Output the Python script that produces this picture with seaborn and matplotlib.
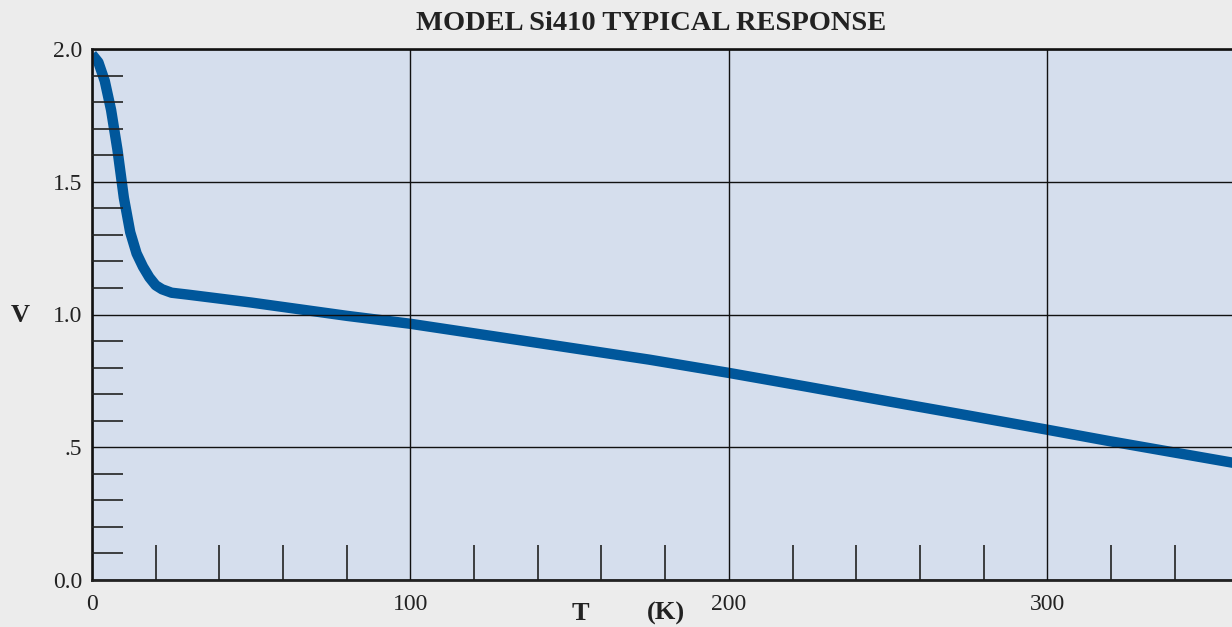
import matplotlib
matplotlib.use("Agg")
import matplotlib.pyplot as plt
import seaborn as sns
import pandas as pd
from matplotlib.ticker import MultipleLocator

# Data
temperature_K = [0, 2, 4, 6, 8, 10, 12, 14, 16, 18, 20, 22, 25, 30, 40, 50, 65, 80, 100,
                 125, 150, 175, 200, 225, 250, 275, 300, 320, 340, 360]
voltage_V = [1.98, 1.95, 1.88, 1.77, 1.62, 1.44, 1.31, 1.23, 1.18, 1.14, 1.11, 1.095, 1.082,
             1.075, 1.06, 1.045, 1.02, 0.995, 0.965, 0.92, 0.875, 0.83, 0.78, 0.727,
             0.673, 0.62, 0.566, 0.522, 0.48, 0.438]

y_tick_values = [0.0, 0.5, 1.0, 1.5, 2.0]
y_tick_labels = ["0.0", ".5", "1.0", "1.5", "2.0"]
x_tick_values = [0, 100, 200, 300]
x_tick_labels = ["0", "100", "200", "300"]

df = pd.DataFrame({"T": temperature_K, "V": voltage_V})

sns.set_theme(style="white")
plt.rcParams["font.family"] = ["Liberation Serif", "DejaVu Serif"]

fig = plt.figure(figsize=(12.32, 6.27), dpi=100)
fig.patch.set_facecolor("#ececec")
ax = fig.add_axes([92 / 1232, 1 - 580 / 627, 1 - 92 / 1232, (580 - 49) / 627])
ax.set_facecolor("#d5deed")

sns.lineplot(data=df, x="T", y="V", ax=ax, color="#00579b", linewidth=7.5,
             solid_capstyle="butt", solid_joinstyle="round")

ax.set_xlim(0.6, 358.0)
ax.set_ylim(0, 2.0)

ax.set_xticks(x_tick_values)
ax.set_xticklabels(x_tick_labels)
ax.set_yticks(y_tick_values)
ax.set_yticklabels(y_tick_labels)
ax.xaxis.set_minor_locator(MultipleLocator(20))
ax.yaxis.set_minor_locator(MultipleLocator(0.1))

ax.tick_params(bottom=True, left=True, which="both")
ax.tick_params(axis="both", which="major", length=0, labelsize=17, labelcolor="#222222")
ax.tick_params(axis="x", which="major", pad=10)
ax.tick_params(axis="y", which="major", pad=7)
ax.tick_params(axis="x", which="minor", direction="in", length=25, width=1.2, color="#222222")
ax.tick_params(axis="y", which="minor", direction="in", length=22, width=1.2, color="#222222")

ax.grid(True, which="major", color="#111111", linewidth=1.0)
ax.set_axisbelow(False)
for gl in ax.get_xgridlines() + ax.get_ygridlines():
    gl.set_zorder(1)

for side in ["left", "bottom", "top"]:
    ax.spines[side].set_visible(True)
    ax.spines[side].set_color("#222222")
    ax.spines[side].set_linewidth(2)
ax.spines["right"].set_visible(False)

ax.set_xlabel("")
ax.set_ylabel("")

fig.text(651 / 1232, 1 - 23 / 627, "MODEL Si410 TYPICAL RESPONSE", ha="center", va="center",
         fontsize=20.5, fontweight="bold", color="#222222")
fig.text(20 / 1232, 1 - 316 / 627, "V", ha="center", va="center",
         fontsize=19, fontweight="bold", color="#222222")
fig.text(580 / 1232, 1 - 613 / 627, "T", ha="center", va="center",
         fontsize=19, fontweight="bold", color="#222222")
fig.text(666 / 1232, 1 - 613 / 627, "(K)", ha="center", va="center",
         fontsize=19, fontweight="bold", color="#222222")

fig.savefig("out.png", dpi=100, facecolor=fig.get_facecolor())
